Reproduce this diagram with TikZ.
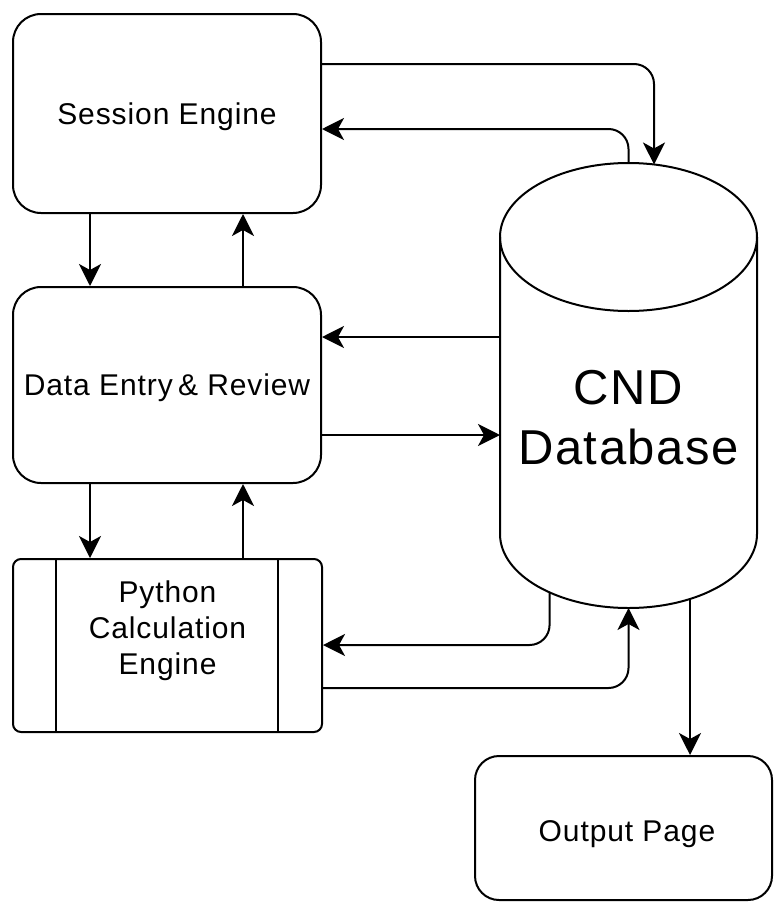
\documentclass[tikz,border=0pt]{standalone}
\usepackage{fontspec}
\setmainfont{Liberation Sans}[LetterSpace=3]
\usetikzlibrary{arrows.meta,calc}
\begin{document}
\begin{tikzpicture}[x=1pt,y=1pt,
  box/.style={draw, line width=2pt, rounded corners=28pt, inner sep=0pt, align=center,
    text depth=0pt, font=\fontsize{30}{36}\selectfont},
  lbl/.style={align=center, inner sep=0pt, font=\fontsize{30}{36}\selectfont},
  arr/.style={line width=2pt, -{Stealth[length=22pt,width=22pt,inset=6pt]}},
  shapeline/.style={line width=2pt},
]
\useasboundingbox (0,0) rectangle (774,-902);

% boxes
\node[box, minimum width=308pt, minimum height=199pt] (session) at (167,-113.5) {Session Engine};
\node[box, minimum width=308pt, minimum height=196pt] (data) at (167,-385) {Data Entry\hspace{-4pt} \& Review};
\node[box, rounded corners=8pt, minimum width=309pt, minimum height=173pt] (python) at (167.5,-645.5) {};
\draw[shapeline] ([xshift=44pt]python.north west) -- ([xshift=44pt]python.south west);
\draw[shapeline] ([xshift=-45pt]python.north east) -- ([xshift=-45pt]python.south east);
\node[lbl] (pylabel) at (167.5,-631) {Python\\Calculation\\Engine};
\node[box, rounded corners=24pt, minimum width=297pt, minimum height=144pt] (output) at (623.5,-828) {};
\node[lbl, text depth=0pt] (outlabel) at (627,-831) {Output Page};

% cylinder
\coordinate (topc) at (628.5,-237);
\coordinate (botc) at (628.5,-534);
\fill[white] (500,-237) -- (500,-534) arc[start angle=180,end angle=360,x radius=128.5,y radius=74] -- (757,-237) arc[start angle=0,end angle=180,x radius=128.5,y radius=74] -- cycle;
\draw[shapeline] (topc) ellipse [x radius=128.5, y radius=74];
\draw[shapeline] (500,-237) -- (500,-534) arc[start angle=180,end angle=360,x radius=128.5,y radius=74] -- (757,-237);
\node[align=center, inner sep=0pt, font=\fontsize{49}{60}\selectfont] (db) at (628.5,-418) {CND\\Database};

% cylinder connection points
\coordinate (dbA) at ($(topc)+(78.55:128.5 and 74)$);
\coordinate (dbB) at ($(topc)+(90:128.5 and 74)$);
\coordinate (dbL1) at (500,-337);
\coordinate (dbL2) at (500,-435);
\coordinate (dbC) at ($(botc)+(232.1:128.5 and 74)$);
\coordinate (dbD) at ($(botc)+(270:128.5 and 74)$);
\coordinate (dbE) at ($(botc)+(298.6:128.5 and 74)$);

% connectors
\draw[arr, rounded corners=20pt] (session.east |- 0,-64) -| (dbA);
\draw[arr, rounded corners=20pt] (dbB) |- (session.east |- 0,-129);
\draw[arr] (session.south -| 90,0) -- (data.north -| 90,0);
\draw[arr] (data.north -| 243,0) -- (session.south -| 243,0);
\draw[arr] (dbL1) -- (data.east |- dbL1);
\draw[arr] (data.east |- dbL2) -- (dbL2);
\draw[arr] (data.south -| 90,0) -- (python.north -| 90,0);
\draw[arr] (python.north -| 243,0) -- (data.south -| 243,0);
\draw[arr, rounded corners=20pt] (dbC) |- (python.east |- 0,-645);
\draw[arr, rounded corners=20pt] (python.east |- 0,-688) -| (dbD);
\draw[arr] (dbE) -- (output.north -| dbE);
\end{tikzpicture}
\end{document}
